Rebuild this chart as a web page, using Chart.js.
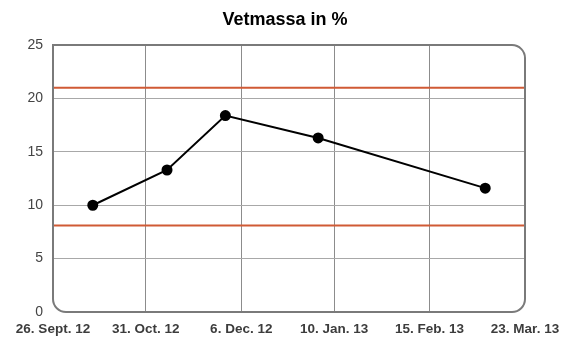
<!DOCTYPE html>
<html>
<head>
<meta charset="utf-8">
<script src="https://cdn.jsdelivr.net/npm/chart.js@4"></script>
<style>
html,body{margin:0;padding:0;background:#fff;}
#wrap{width:570px;height:360px;}
</style>
</head>
<body>
<div id="wrap"><canvas id="c" width="570" height="360"></canvas></div>
<script>
// Days since 26 Sept 2012
const tickDays = [0, 35, 71, 106, 142, 178];
const tickLabels = ["26. Sept. 12", "31. Oct. 12", "6. Dec. 12", "10. Jan. 13", "15. Feb. 13", "23. Mar. 13"];
const measureDays = [15, 43, 65, 100, 163];
const fatPercent = [10.0, 13.3, 18.4, 16.3, 11.6];
const upperLimit = 21;
const lowerLimit = 8.1;
const yTicks = [0, 5, 10, 15, 20, 25];

const xMin = tickDays[0], xMax = tickDays[tickDays.length - 1];
const FONT = 'Liberation Sans, Arial, sans-serif';

const borderPlugin = {
  id: 'roundBorder',
  afterDatasetsDraw(chart) {
    const {ctx, chartArea: a} = chart;
    ctx.save();
    ctx.strokeStyle = '#7a7a7a';
    ctx.lineWidth = 2;
    ctx.beginPath();
    ctx.roundRect(a.left, a.top, a.right - a.left, a.bottom - a.top, [0, 13, 13, 13]);
    ctx.stroke();
    ctx.restore();
  }
};

new Chart(document.getElementById('c'), {
  type: 'line',
  data: {
    datasets: [
      {
        data: [{x: xMin, y: upperLimit}, {x: xMax, y: upperLimit}],
        borderColor: '#d05a35', borderWidth: 2, pointRadius: 0, fill: false
      },
      {
        data: [{x: xMin, y: lowerLimit}, {x: xMax, y: lowerLimit}],
        borderColor: '#d05a35', borderWidth: 2, pointRadius: 0, fill: false
      },
      {
        data: measureDays.map((d, i) => ({x: d, y: fatPercent[i]})),
        borderColor: '#000', borderWidth: 2,
        pointRadius: 4.5, pointBackgroundColor: '#000', pointBorderColor: '#000',
        fill: false, tension: 0
      }
    ]
  },
  options: {
    responsive: false,
    animation: false,
    layout: {padding: {left: 0, right: 0, top: 0, bottom: 22}},
    plugins: {
      legend: {display: false},
      tooltip: {enabled: false},
      title: {
        display: true,
        text: 'Vetmassa in %',
        color: '#000',
        font: {family: FONT, size: 18, weight: 'bold'},
        padding: {top: 9, bottom: 14.5}
      }
    },
    scales: {
      x: {
        type: 'linear',
        min: xMin, max: xMax,
        afterBuildTicks(s) { s.ticks = tickDays.map(v => ({value: v})); },
        afterFit(s) { s.height = 26; },
        border: {display: false},
        grid: {
          drawTicks: false,
          color: ctx => (ctx.index === 0 || ctx.index === tickDays.length - 1) ? 'rgba(0,0,0,0)' : '#8c8c8c',
          lineWidth: 1
        },
        ticks: {
          autoSkip: false, maxRotation: 0, padding: 9,
          color: '#3c3c3c',
          font: {family: FONT, size: 13.5, weight: 'bold'},
          callback: (v, i) => tickLabels[i]
        }
      },
      y: {
        min: 0, max: 25,
        afterBuildTicks(s) { s.ticks = yTicks.map(v => ({value: v})); },
        afterFit(s) { s.width = 53; },
        border: {display: false},
        grid: {
          drawTicks: false,
          color: ctx => (ctx.index === 0 || ctx.index === yTicks.length - 1) ? 'rgba(0,0,0,0)' : '#a8a8a8',
          lineWidth: 1
        },
        ticks: {
          padding: 10,
          color: '#444',
          font: {family: FONT, size: 14}
        }
      },
      yRight: {
        position: 'right',
        display: true,
        min: 0, max: 25,
        afterFit(s) { s.width = 45; },
        border: {display: false},
        grid: {display: false},
        ticks: {display: false}
      }
    }
  },
  plugins: [borderPlugin]
});
</script>
</body>
</html>
